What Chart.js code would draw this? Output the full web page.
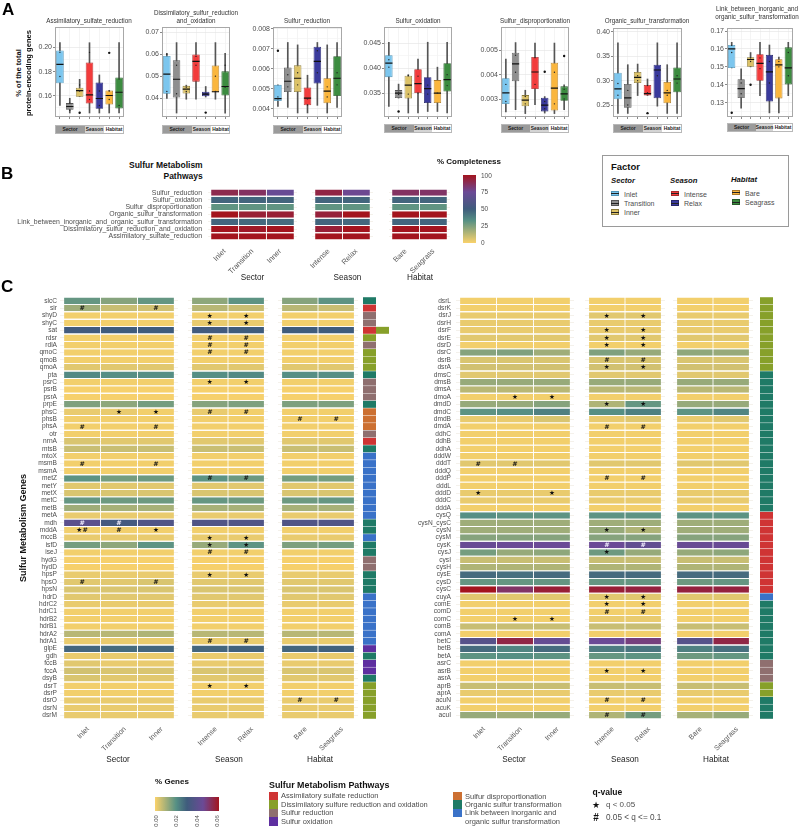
<!DOCTYPE html>
<html>
<head>
<meta charset="utf-8">
<title>Sulfur metabolism genes</title>
<script src="https://cdn.jsdelivr.net/npm/chart.js@4"></script>
<style>
  html, body { margin: 0; padding: 0; background: #fff; }
  #page { position: relative; width: 800px; height: 828px; overflow: hidden; font-family: "Liberation Sans", Arial, sans-serif; }
  #page canvas { position: absolute; }
  .t { position: absolute; white-space: nowrap; line-height: 1; color: #222; }
  .b { position: absolute; box-sizing: border-box; }
</style>
</head>
<body>
<div id="page"></div>
<script>
// ===============================
// BOXPLOT DATA  [low, q1, median, q3, high]
// ===============================
const boxFactors = ["Inlet", "Transition", "Inner", "Intense", "Relax", "Bare", "Seagrass"];

const assimBoxes = [
  [0.152, 0.1704, 0.186, 0.1975, 0.204], [0.1458, 0.1485, 0.1512, 0.154, 0.158], [0.1595, 0.1592, 0.1644, 0.1668, 0.1737],
  [0.1458, 0.1537, 0.1608, 0.1877, 0.204], [0.1458, 0.1493, 0.1578, 0.171, 0.1773], [0.1458, 0.1529, 0.1603, 0.1644, 0.1644],
  [0.1458, 0.1496, 0.163, 0.1753, 0.204]
];
const assimOutliers = [[], [], [0.146], [], [], [0.1956], []];
const assimDots = [[0.196, 0.176], [0.154, 0.148], [0.164, 0.169], [0.196, 0.164, 0.157], [0.164, 0.152], [0.164, 0.157], [0.174, 0.152]];
const assimTicks = [0.16, 0.18, 0.20];

const dissimBoxes = [
  [0.0399, 0.042, 0.0509, 0.0592, 0.0604], [0.0332, 0.0403, 0.0486, 0.0572, 0.0653], [0.0395, 0.0421, 0.0441, 0.0456, 0.0459],
  [0.0395, 0.0475, 0.0567, 0.0599, 0.0653], [0.0405, 0.0408, 0.0418, 0.0429, 0.0453], [0.0395, 0.0427, 0.0429, 0.0549, 0.0653],
  [0.0332, 0.0412, 0.0453, 0.0522, 0.0604]
];
const dissimOutliers = [[], [], [], [], [0.0334], [], []];
const dissimDots = [[0.06, 0.043], [0.055, 0.042], [0.045, 0.043], [0.059, 0.055], [0.042], [0.05, 0.043], [0.055, 0.045]];
const dissimTicks = [0.04, 0.05, 0.06, 0.07];

const reductionBoxes = [
  [0.00413, 0.0044, 0.00451, 0.0052, 0.0052], [0.00408, 0.00484, 0.00538, 0.00607, 0.00731], [0.0038, 0.00484, 0.00553, 0.00617, 0.00719],
  [0.0038, 0.00418, 0.00454, 0.00507, 0.00568], [0.00418, 0.00527, 0.00637, 0.0071, 0.00731], [0.0038, 0.00428, 0.00489, 0.00553, 0.00719],
  [0.00408, 0.00464, 0.00553, 0.00663, 0.00731]
];
const reductionOutliers = [[0.0069], [], [], [], [], [], []];
const reductionDots = [[0.0046, 0.0045], [0.0057, 0.0051], [0.0058, 0.0052], [0.0045, 0.0042], [0.0069, 0.0058], [0.0051, 0.0046], [0.0058, 0.0052]];
const reductionTicks = [0.004, 0.005, 0.006, 0.007, 0.008];

const oxidationBoxes = [
  [0.0323, 0.0382, 0.041, 0.0426, 0.0452], [0.034, 0.034, 0.035, 0.0356, 0.0368], [0.031, 0.0339, 0.0366, 0.0385, 0.0387],
  [0.031, 0.035, 0.0369, 0.0398, 0.0418], [0.0313, 0.033, 0.0359, 0.0382, 0.0452], [0.0313, 0.033, 0.035, 0.0376, 0.0402],
  [0.031, 0.0353, 0.0377, 0.041, 0.0452]
];
const oxidationOutliers = [[], [0.0313], [], [], [], [], []];
const oxidationDots = [[0.0417, 0.0402], [0.0352, 0.0347], [0.0385, 0.0348], [0.0384, 0.035], [0.0366, 0.0348], [0.035], [0.0387, 0.0365]];
const oxidationTicks = [0.035, 0.040, 0.045];

const disproportionBoxes = [
  [0.00247, 0.00279, 0.00325, 0.00385, 0.00464], [0.00256, 0.00373, 0.00444, 0.0049, 0.00532], [0.0024, 0.0027, 0.00295, 0.00316, 0.00336],
  [0.00277, 0.00341, 0.00411, 0.00473, 0.0053], [0.00242, 0.00249, 0.00275, 0.00305, 0.0031], [0.0024, 0.00253, 0.00345, 0.00449, 0.0053],
  [0.00256, 0.00293, 0.00321, 0.00352, 0.00358]
];
const disproportionOutliers = [[], [], [], [], [0.00412], [], [0.00477]];
const disproportionDots = [[0.0036, 0.0029], [0.0048, 0.0041], [0.0031, 0.0028], [0.0047, 0.0036], [0.0029, 0.0026], [0.0041, 0.0028], [0.0034, 0.003]];
const disproportionTicks = [0.003, 0.004, 0.005];

const organicBoxes = [
  [0.2327, 0.2619, 0.283, 0.3163, 0.3776], [0.2327, 0.2442, 0.2646, 0.2932, 0.3327], [0.2694, 0.2952, 0.3068, 0.3177, 0.334],
  [0.2694, 0.2694, 0.2735, 0.2912, 0.3034], [0.2476, 0.2639, 0.3218, 0.3327, 0.3776], [0.2327, 0.2537, 0.2748, 0.2973, 0.3327],
  [0.2327, 0.2762, 0.3034, 0.3272, 0.3776]
];
const organicOutliers = [[], [], [], [0.2333], [], [], []];
const organicDots = [[0.294, 0.27], [0.28, 0.25], [0.31, 0.3], [0.29, 0.275], [0.31], [0.28, 0.27], [0.31, 0.295]];
const organicTicks = [0.25, 0.30, 0.35, 0.40];

const linkBoxes = [
  [0.1494, 0.1494, 0.16, 0.1622, 0.1637], [0.1269, 0.1326, 0.1378, 0.1431, 0.1489], [0.15, 0.15, 0.1541, 0.1554, 0.158],
  [0.1339, 0.1422, 0.1519, 0.157, 0.1637], [0.1243, 0.1306, 0.1472, 0.1567, 0.1622], [0.1243, 0.1324, 0.1511, 0.1543, 0.1554],
  [0.1339, 0.1402, 0.1494, 0.1609, 0.1637]
];
const linkOutliers = [[0.1244], [], [0.14], [], [], [], []];
const linkDots = [[0.162, 0.158], [0.141, 0.135], [0.155, 0.153], [0.155, 0.149], [0.153, 0.141], [0.153, 0.15], [0.158, 0.145]];
const linkTicks = [0.13, 0.14, 0.15, 0.16, 0.17];

// ===============================
// PATHWAY COMPLETENESS DATA
// ===============================
const pathways = [
  "Sulfur_reduction", "Sulfur_oxidation", "Sulfur_disproportionation", "Organic_sulfur_transformation",
  "Link_between_inorganic_and_organic_sulfur_transformation", "Dissimilatory_sulfur_reduction_and_oxidation",
  "Assimilatory_sulfate_reduction"
];
// columns follow boxFactors
const completeness = [
  [90, 86, 73, 92, 76, 86, 85],
  [47, 47, 47, 47, 47, 47, 47],
  [31, 31, 31, 31, 31, 31, 31],
  [100, 95, 95, 94, 100, 100, 100],
  [47, 46, 45, 47, 46, 47, 47],
  [100, 98, 100, 95, 100, 100, 100],
  [100, 100, 100, 100, 100, 100, 100]
];

// ===============================
// GENE HEATMAP DATA (% genes)
// ===============================
const leftGenes = [
  "slcC", "sir", "shyD", "shyC", "sat", "rdsr", "rdlA", "qmoC", "qmoB", "qmoA", "pta", "psrC", "psrB", "psrA", "prpE",
  "phsC", "phsB", "phsA", "otr", "nrnA", "mtsB", "mtoX", "msmB", "msmA", "metZ", "metY", "metX", "metC", "metB", "metA",
  "mdh", "mddA", "mccB", "isfD", "iseJ", "hydG", "hydD", "hpsP", "hpsO", "hpsN", "hdrD", "hdrC2", "hdrC1", "hdrB2", "hdrB1",
  "hdrA2", "hdrA1", "glpE", "gdh", "fccB", "fccA", "dsyB", "dsrT", "dsrP", "dsrO", "dsrN", "dsrM"
];
const leftValues = [
  [0.018, 0.014, 0.018, 0.013, 0.019, 0.014, 0.019], [0.011, 0.006, 0.005, 0.008, 0.006, 0.008, 0.006],
  [0.001, 0.001, 0.001, 0.001, 0.001, 0.001, 0.001], [0.001, 0.001, 0.001, 0.002, 0.002, 0.001, 0.001],
  [0.031, 0.030, 0.030, 0.031, 0.030, 0.030, 0.030], [0.001, 0.001, 0.001, 0.001, 0.001, 0.001, 0.001],
  [0.001, 0.001, 0.001, 0.001, 0.001, 0.001, 0.001], [0.001, 0.001, 0.001, 0.001, 0.001, 0.001, 0.001],
  [0.001, 0.001, 0.001, 0.001, 0.001, 0.001, 0.001], [0.003, 0.003, 0.003, 0.003, 0.003, 0.003, 0.003],
  [0.021, 0.020, 0.020, 0.020, 0.021, 0.020, 0.020], [0.001, 0.001, 0.001, 0.001, 0.001, 0.001, 0.001],
  [0.0005, 0.0005, 0.0005, 0.0005, 0.0005, 0.0005, 0.0005], [0.0005, 0.0005, 0.0005, 0.0005, 0.0005, 0.0005, 0.0005],
  [0.015, 0.013, 0.016, 0.014, 0.015, 0.015, 0.015], [0.002, 0.002, 0.001, 0.002, 0.001, 0.001, 0.001],
  [0.001, 0.001, 0.001, 0.001, 0.001, 0.001, 0.001], [0.001, 0.001, 0.001, 0.001, 0.001, 0.001, 0.001],
  [0.001, 0.001, 0.001, 0.001, 0.001, 0.001, 0.001], [0.004, 0.003, 0.003, 0.003, 0.003, 0.003, 0.003],
  [0.006, 0.006, 0.006, 0.006, 0.006, 0.006, 0.006], [0.001, 0.001, 0.001, 0.001, 0.001, 0.001, 0.001],
  [0.001, 0.001, 0.001, 0.001, 0.001, 0.001, 0.001], [0.001, 0.001, 0.001, 0.001, 0.001, 0.001, 0.001],
  [0.019, 0.016, 0.017, 0.019, 0.017, 0.016, 0.016], [0.003, 0.003, 0.003, 0.003, 0.003, 0.003, 0.003],
  [0.004, 0.004, 0.004, 0.004, 0.004, 0.004, 0.004], [0.018, 0.017, 0.017, 0.018, 0.017, 0.017, 0.018],
  [0.011, 0.010, 0.010, 0.010, 0.010, 0.010, 0.010], [0.002, 0.002, 0.002, 0.002, 0.002, 0.002, 0.002],
  [0.040, 0.032, 0.036, 0.036, 0.036, 0.036, 0.036], [0.001, 0.001, 0.001, 0.001, 0.001, 0.001, 0.001],
  [0.002, 0.002, 0.002, 0.002, 0.002, 0.002, 0.002], [0.016, 0.013, 0.019, 0.012, 0.019, 0.015, 0.016],
  [0.001, 0.001, 0.001, 0.001, 0.001, 0.001, 0.001], [0.0005, 0.0005, 0.0005, 0.0005, 0.0005, 0.0005, 0.0005],
  [0.0005, 0.0005, 0.0005, 0.0005, 0.0005, 0.0005, 0.0005], [0.002, 0.002, 0.002, 0.002, 0.002, 0.002, 0.002],
  [0.003, 0.003, 0.004, 0.003, 0.003, 0.003, 0.003], [0.004, 0.004, 0.004, 0.004, 0.004, 0.004, 0.004],
  [0.003, 0.003, 0.003, 0.003, 0.003, 0.003, 0.003], [0.002, 0.002, 0.002, 0.002, 0.002, 0.002, 0.002],
  [0.001, 0.001, 0.001, 0.001, 0.001, 0.001, 0.001], [0.001, 0.001, 0.001, 0.001, 0.001, 0.001, 0.001],
  [0.001, 0.001, 0.001, 0.001, 0.001, 0.001, 0.001], [0.008, 0.008, 0.009, 0.008, 0.008, 0.008, 0.008],
  [0.002, 0.002, 0.002, 0.002, 0.002, 0.002, 0.002], [0.028, 0.027, 0.028, 0.028, 0.029, 0.028, 0.029],
  [0.002, 0.002, 0.002, 0.002, 0.002, 0.002, 0.002], [0.003, 0.002, 0.002, 0.002, 0.002, 0.002, 0.002],
  [0.005, 0.004, 0.004, 0.004, 0.004, 0.004, 0.004], [0.004, 0.003, 0.003, 0.003, 0.003, 0.003, 0.003],
  [0.001, 0.001, 0.001, 0.001, 0.001, 0.001, 0.001], [0.001, 0.001, 0.001, 0.001, 0.001, 0.001, 0.001],
  [0.002, 0.002, 0.002, 0.002, 0.002, 0.002, 0.002], [0.002, 0.002, 0.002, 0.002, 0.002, 0.002, 0.002],
  [0.002, 0.002, 0.002, 0.002, 0.002, 0.002, 0.002]
];
const leftPathways = "TARRADRDDDTRRRTPPPRATLLLLLLLLLTTLTTRRTTTLLLLLLLOTOOTDDDDD".split("");
// sat also belongs to the dissimilatory pathway, shown as a second strip cell
const leftExtra = { sat: "D" };
// [gene, column]
const leftStars = [
  ["shyD", 3], ["shyD", 4], ["shyC", 3], ["shyC", 4], ["psrC", 3], ["psrC", 4], ["phsC", 1], ["phsC", 2], ["mddA", 0], ["mddA", 2],
  ["mccB", 3], ["mccB", 4], ["isfD", 3], ["isfD", 4], ["hpsP", 3], ["hpsP", 4], ["dsrT", 3], ["dsrT", 4]
];
const leftHashes = [
  ["sir", 0], ["sir", 2], ["rdsr", 3], ["rdsr", 4], ["rdlA", 3], ["rdlA", 4], ["qmoC", 3], ["qmoC", 4], ["phsC", 3], ["phsC", 4],
  ["phsB", 5], ["phsB", 6], ["phsA", 0], ["phsA", 2], ["msmB", 0], ["msmB", 2], ["metZ", 3], ["metZ", 4], ["mdh", 0], ["mdh", 1],
  ["mddA", 0], ["mddA", 1], ["iseJ", 3], ["iseJ", 4], ["hpsO", 0], ["hpsO", 2], ["hdrA1", 3], ["hdrA1", 4], ["dsrO", 5], ["dsrO", 6]
];

const rightGenes = [
  "dsrL", "dsrK", "dsrJ", "dsrH", "dsrF", "dsrE", "dsrD", "dsrC", "dsrB", "dsrA", "dmsC", "dmsB", "dmsA", "dmoA", "dmdD",
  "dmdC", "dmdB", "dmdA", "ddhC", "ddhB", "ddhA", "dddW", "dddT", "dddQ", "dddP", "dddL", "dddD", "dddC", "dddA", "cysQ",
  "cysN_cysC", "cysN", "cysM", "cysK", "cysJ", "cysI", "cysH", "cysE", "cysD", "cysC", "cuyA", "comE", "comD", "comC", "comB",
  "comA", "betC", "betB", "betA", "asrC", "asrB", "asrA", "aprB", "aprA", "acuN", "acuK", "acuI"
];
const rightValues = [
  [0.001, 0.001, 0.001, 0.001, 0.001, 0.001, 0.001], [0.001, 0.001, 0.001, 0.001, 0.001, 0.001, 0.001],
  [0.002, 0.002, 0.002, 0.003, 0.003, 0.002, 0.002], [0.002, 0.002, 0.002, 0.002, 0.002, 0.002, 0.002],
  [0.002, 0.002, 0.002, 0.002, 0.002, 0.002, 0.002], [0.003, 0.003, 0.003, 0.003, 0.003, 0.003, 0.003],
  [0.001, 0.001, 0.001, 0.001, 0.001, 0.001, 0.001], [0.014, 0.015, 0.011, 0.015, 0.012, 0.013, 0.012],
  [0.004, 0.004, 0.004, 0.004, 0.004, 0.004, 0.004], [0.005, 0.005, 0.005, 0.005, 0.005, 0.005, 0.005],
  [0.003, 0.003, 0.003, 0.003, 0.003, 0.003, 0.003], [0.012, 0.012, 0.012, 0.012, 0.012, 0.012, 0.012],
  [0.008, 0.008, 0.008, 0.008, 0.008, 0.008, 0.008], [0.001, 0.001, 0.001, 0.001, 0.001, 0.001, 0.001],
  [0.012, 0.012, 0.014, 0.009, 0.018, 0.012, 0.012], [0.019, 0.020, 0.023, 0.020, 0.023, 0.019, 0.022],
  [0.002, 0.002, 0.004, 0.002, 0.003, 0.002, 0.003], [0.001, 0.001, 0.001, 0.001, 0.001, 0.001, 0.001],
  [0.001, 0.001, 0.001, 0.001, 0.001, 0.001, 0.001], [0.001, 0.001, 0.001, 0.001, 0.001, 0.001, 0.001],
  [0.001, 0.001, 0.001, 0.001, 0.001, 0.001, 0.001], [0.001, 0.001, 0.001, 0.001, 0.001, 0.001, 0.001],
  [0.003, 0.003, 0.003, 0.003, 0.003, 0.003, 0.003], [0.001, 0.001, 0.001, 0.001, 0.001, 0.001, 0.001],
  [0.001, 0.001, 0.001, 0.001, 0.001, 0.001, 0.001], [0.001, 0.001, 0.001, 0.001, 0.001, 0.001, 0.001],
  [0.002, 0.002, 0.002, 0.002, 0.002, 0.002, 0.002], [0.002, 0.002, 0.002, 0.002, 0.002, 0.002, 0.002],
  [0.001, 0.001, 0.001, 0.001, 0.001, 0.001, 0.001], [0.020, 0.019, 0.019, 0.019, 0.019, 0.019, 0.019],
  [0.011, 0.011, 0.011, 0.011, 0.011, 0.011, 0.011], [0.011, 0.011, 0.011, 0.012, 0.009, 0.011, 0.011],
  [0.014, 0.014, 0.014, 0.014, 0.014, 0.014, 0.014], [0.044, 0.045, 0.045, 0.045, 0.042, 0.044, 0.044],
  [0.016, 0.012, 0.013, 0.017, 0.012, 0.012, 0.013], [0.006, 0.006, 0.006, 0.006, 0.006, 0.006, 0.006],
  [0.009, 0.009, 0.009, 0.009, 0.009, 0.009, 0.009], [0.027, 0.026, 0.027, 0.027, 0.027, 0.027, 0.027],
  [0.018, 0.018, 0.018, 0.018, 0.018, 0.017, 0.018], [0.060, 0.051, 0.057, 0.057, 0.056, 0.056, 0.056],
  [0.003, 0.003, 0.003, 0.003, 0.003, 0.003, 0.003], [0.001, 0.001, 0.001, 0.001, 0.001, 0.001, 0.001],
  [0.001, 0.001, 0.001, 0.001, 0.001, 0.001, 0.001], [0.001, 0.001, 0.001, 0.002, 0.002, 0.001, 0.001],
  [0.006, 0.006, 0.006, 0.006, 0.006, 0.006, 0.006], [0.001, 0.001, 0.001, 0.001, 0.001, 0.001, 0.001],
  [0.038, 0.055, 0.043, 0.045, 0.048, 0.038, 0.055], [0.027, 0.022, 0.027, 0.024, 0.025, 0.023, 0.026],
  [0.019, 0.020, 0.019, 0.018, 0.019, 0.017, 0.018], [0.001, 0.001, 0.001, 0.001, 0.001, 0.001, 0.001],
  [0.001, 0.001, 0.001, 0.001, 0.001, 0.001, 0.001], [0.001, 0.001, 0.001, 0.001, 0.001, 0.001, 0.001],
  [0.006, 0.006, 0.006, 0.006, 0.006, 0.006, 0.006], [0.002, 0.002, 0.002, 0.002, 0.002, 0.002, 0.002],
  [0.001, 0.001, 0.001, 0.001, 0.001, 0.001, 0.001], [0.001, 0.001, 0.001, 0.001, 0.001, 0.001, 0.001],
  [0.012, 0.011, 0.012, 0.009, 0.016, 0.010, 0.012]
];
const rightPathways = "DDDDDDDDDDTTTTTTTTTTTTTTTTTTTAAAAAAAAAAALTTTTTTTTRRRDDTTT".split("");
const rightExtra = {};
const rightStars = [
  ["dsrJ", 3], ["dsrJ", 4], ["dsrF", 3], ["dsrF", 4], ["dsrE", 3], ["dsrE", 4], ["dsrD", 3], ["dsrD", 4], ["dsrA", 3], ["dsrA", 4],
  ["dmoA", 1], ["dmoA", 2], ["dmdD", 3], ["dmdD", 4], ["dddD", 0], ["dddD", 2], ["cysN", 3], ["cysN", 4], ["cysJ", 3],
  ["cuyA", 3], ["cuyA", 4], ["comE", 3], ["comE", 4], ["comC", 1], ["comC", 2], ["asrB", 3], ["asrB", 4]
];
const rightHashes = [
  ["dsrB", 3], ["dsrB", 4], ["dmdA", 3], ["dmdA", 4], ["dddT", 0], ["dddT", 1], ["dddP", 3], ["dddP", 4], ["cysK", 3], ["cysK", 4],
  ["comD", 3], ["comD", 4], ["acuN", 3], ["acuN", 4], ["acuI", 3], ["acuI", 4]
];

const completenessTicks = [100, 75, 50, 25, 0];
const geneScaleTicks = ["0.00", "0.02", "0.04", "0.06"];

// ===============================
// STYLES
// ===============================
const boxFill = ["#7cc6ee", "#8f8f8f", "#dcc268", "#f23c3c", "#3a3a9c", "#fab63e", "#3c8c40"];
const boxEdge = ["#4f93b5", "#555555", "#8a7a3a", "#a62a2a", "#26266a", "#a8782a", "#275c2a"];
const pathwayColor = { A: "#cf3434", D: "#87a02a", R: "#8f6f6f", O: "#5e2fa0", P: "#cc7032", T: "#1f7a66", L: "#3a72c8" };
const rampStops = [[0, "#fad26b"], [0.33, "#569084"], [0.5, "#3f5c7c"], [0.75, "#6b4a96"], [1, "#a3141e"]];
const rampCss = rampStops.map(s => `${s[1]} ${s[0] * 100}%`).join(",");
const labelGrey = "#4d4d4d";
const fontName = '"Liberation Sans", Arial, sans-serif';

Chart.defaults.font.family = fontName;
Chart.defaults.animation = false;
Chart.defaults.responsive = false;
Chart.defaults.layout.autoPadding = false;
Chart.defaults.plugins.legend.display = false;
Chart.defaults.plugins.tooltip.enabled = false;

// ===============================
// HELPERS
// ===============================
const page = document.getElementById("page");

function hexRgb(h) {
  return [1, 3, 5].map(i => parseInt(h.slice(i, i + 2), 16));
}

function rampColor(t) {
  t = Math.max(0, Math.min(1, t));
  for (let i = 1; i < rampStops.length; i++) {
    if (t <= rampStops[i][0]) {
      const [t0, c0] = rampStops[i - 1];
      const [t1, c1] = rampStops[i];
      const f = (t - t0) / (t1 - t0);
      const a = hexRgb(c0), b = hexRgb(c1);
      return `rgb(${a.map((v, k) => Math.round(v + (b[k] - v) * f)).join(",")})`;
    }
  }
  return rampStops[rampStops.length - 1][1];
}

// absolutely placed text, x is the left/centre/right anchor and y the middle
function text(str, x, y, size, opts = {}) {
  const d = document.createElement("div");
  d.className = "t";
  d.textContent = str;
  const ax = { l: "0", c: "-50%", r: "-100%" }[opts.align || "l"];
  d.style.cssText = `left:${x}px;top:${y}px;font-size:${size}px;transform:translate(${ax},-50%) rotate(${opts.rot || 0}deg);`
    + `font-weight:${opts.bold ? "bold" : "normal"};font-style:${opts.italic ? "italic" : "normal"};color:${opts.color || "#222"};`
    + (opts.font ? `font-family:${opts.font};` : "");
  page.appendChild(d);
  return d;
}

function block(x, y, w, h, css) {
  const d = document.createElement("div");
  d.className = "b";
  d.style.cssText = `left:${x}px;top:${y}px;width:${w}px;height:${h}px;${css}`;
  page.appendChild(d);
  return d;
}

function newCanvas(x, y, w, h) {
  const c = document.createElement("canvas");
  c.width = w;
  c.height = h;
  c.style.left = x + "px";
  c.style.top = y + "px";
  page.appendChild(c);
  return c;
}

// pins an axis to a given thickness so the plot area lands where it should
function pinAxis(size) {
  return scale => {
    if (scale.isHorizontal()) scale.height = size; else scale.width = size;
    scale.paddingLeft = scale.paddingRight = scale.paddingTop = scale.paddingBottom = 0;
  };
}

const panelBorder = {
  id: "panelBorder",
  afterDatasetsDraw(chart) {
    const { ctx, chartArea: a } = chart;
    ctx.save();
    ctx.strokeStyle = "#a8a8a8";
    ctx.lineWidth = 1;
    ctx.strokeRect(a.left + 0.5, a.top + 0.5, a.right - a.left - 1, a.bottom - a.top - 1);
    ctx.restore();
  }
};

// stars and hashes written on top of the heatmap cells
const cellMarks = {
  id: "cellMarks",
  afterDatasetsDraw(chart, args, opts) {
    const ctx = chart.ctx;
    ctx.save();
    ctx.textAlign = "center";
    ctx.textBaseline = "middle";
    opts.marks.forEach(m => {
      const p = chart.getDatasetMeta(m.col).data[m.row].getCenterPoint();
      ctx.fillStyle = m.light ? "#f4f0ff" : "#111";
      ctx.font = `bold ${m.sym === "#" ? 6.4 : 6.6}px "DejaVu Sans"`;
      ctx.fillText(m.sym === "#" ? "#" : "\u2605", p.x + m.dx, p.y + 0.3);
    });
    ctx.restore();
  }
};

// ===============================
// PANEL A : BOXPLOTS
// ===============================
function buildBoxPanel(box, stats, outliers, dots, ticks, digits, ymin, ymax) {
  const gutter = 26;
  const headroom = 5; // keeps a tick label at the very top of the panel from being cut
  const canvas = newCanvas(box.x0 - gutter, box.y0 - headroom, box.x1 - box.x0 + gutter, box.y1 - box.y0 + 4 + headroom);
  const mid = ticks.slice(1).map((v, i) => (v + ticks[i]) / 2);
  const all = ticks.concat(mid).concat([ticks[0] - (ticks[1] - ticks[0]) / 2]).filter(v => v > ymin && v < ymax);

  const flat = list => list.flatMap((vals, i) => vals.map(v => ({ x: boxFactors[i], y: v })));

  new Chart(canvas, {
    type: "bar",
    data: {
      labels: boxFactors,
      datasets: [
        {
          data: stats.map(s => [s[0], s[4]]),
          backgroundColor: "#555",
          barThickness: 1,
          grouped: false,
          order: 4
        },
        {
          data: stats.map(s => [s[1], s[3]]),
          backgroundColor: boxFill,
          borderColor: boxEdge,
          borderWidth: 0.8,
          borderSkipped: false,
          barPercentage: 0.77,
          categoryPercentage: 1,
          grouped: false,
          order: 3
        },
        {
          type: "line",
          data: stats.map(s => s[2]),
          showLine: false,
          pointStyle: "line",
          pointRadius: 3.6,
          pointBorderWidth: 1.2,
          pointBorderColor: "#111",
          order: 2
        },
        {
          type: "line",
          data: flat(dots),
          showLine: false,
          pointRadius: 0.7,
          pointBorderWidth: 0,
          pointBackgroundColor: "#222",
          order: 1
        },
        {
          type: "line",
          data: flat(outliers),
          showLine: false,
          pointRadius: 1.2,
          pointBorderWidth: 0,
          pointBackgroundColor: "#111",
          order: 0
        }
      ]
    },
    options: {
      layout: { padding: { top: headroom } },
      scales: {
        x: {
          afterFit: pinAxis(4),
          ticks: { display: false },
          grid: { color: "#efefef", offset: false, tickColor: "#555", tickLength: 2, lineWidth: 0.7 },
          border: { display: false }
        },
        y: {
          min: ymin,
          max: ymax,
          afterFit: pinAxis(gutter),
          afterBuildTicks: s => { s.ticks = all.map(v => ({ value: v })); },
          ticks: {
            autoSkip: false,
            color: labelGrey,
            padding: 1,
            font: { size: 7 },
            callback: v => (ticks.some(t => Math.abs(t - v) < 1e-9) ? v.toFixed(digits) : "")
          },
          grid: {
            color: c => (ticks.some(t => Math.abs(t - c.tick.value) < 1e-9) ? "#e6e6e6" : "#f3f3f3"),
            tickColor: c => (ticks.some(t => Math.abs(t - c.tick.value) < 1e-9) ? "#555" : "transparent"),
            tickLength: 2,
            lineWidth: 0.7
          },
          border: { display: false }
        }
      }
    },
    plugins: [panelBorder]
  });

  // factor strip below the panel
  const h = 9.4;
  const s = box.strip;
  block(s[0], box.stripY, s[1] - s[0], h, "background:#9b9b9b;");
  block(s[1], box.stripY, s[2] - s[1], h, "background:#d4d4d4;");
  block(s[2], box.stripY, s[3] - s[2], h, "background:#fff;");
  block(s[0], box.stripY, s[3] - s[0], h, "border:1px solid #b8b8b8;");
  ["Sector", "Season", "Habitat"].forEach((name, i) => {
    text(name, (s[i] + s[i + 1]) / 2, box.stripY + h / 2, 4.9, { align: "c", bold: true, color: "#1c1c1c" });
  });
}

buildBoxPanel({ x0: 55, x1: 124, y0: 27, y1: 117, stripY: 125, strip: [55, 85, 104, 124] },
  assimBoxes, assimOutliers, assimDots, assimTicks, 2, 0.1425, 0.217);
buildBoxPanel({ x0: 162, x1: 230, y0: 27, y1: 117, stripY: 125, strip: [162, 192, 211, 230] },
  dissimBoxes, dissimOutliers, dissimDots, dissimTicks, 2, 0.0314, 0.0724);
buildBoxPanel({ x0: 273, x1: 342, y0: 27, y1: 117, stripY: 125, strip: [273, 303, 322, 342] },
  reductionBoxes, reductionOutliers, reductionDots, reductionTicks, 3, 0.0036, 0.00808);
buildBoxPanel({ x0: 384, x1: 452, y0: 27, y1: 117, stripY: 124, strip: [384, 414, 432, 452] },
  oxidationBoxes, oxidationOutliers, oxidationDots, oxidationTicks, 3, 0.0302, 0.04826);
buildBoxPanel({ x0: 501, x1: 569, y0: 27, y1: 117, stripY: 124, strip: [501, 530, 549, 569] },
  disproportionBoxes, disproportionOutliers, disproportionDots, disproportionTicks, 3, 0.00226, 0.00596);
buildBoxPanel({ x0: 613, x1: 682, y0: 28, y1: 117, stripY: 124, strip: [613, 643, 662, 682] },
  organicBoxes, organicOutliers, organicDots, organicTicks, 2, 0.2254, 0.408);
buildBoxPanel({ x0: 727, x1: 793, y0: 28, y1: 117, stripY: 123, strip: [727, 756, 773, 793] },
  linkBoxes, linkOutliers, linkDots, linkTicks, 2, 0.122, 0.1717);

const titleOpts = { align: "c", color: "#333" };
text("Assimilatory_sulfate_reduction", 89, 20.7, 6.3, titleOpts);
text("Dissimilatory_sulfur_reduction", 196, 13, 6.3, titleOpts);
text("and_oxidation", 196, 21, 6.3, titleOpts);
text("Sulfur_reduction", 307, 20.7, 6.3, titleOpts);
text("Sulfur_oxidation", 418, 20.7, 6.3, titleOpts);
text("Sulfur_disproportionation", 535, 21, 6.3, titleOpts);
text("Organic_sulfur_transformation", 647, 21, 6.3, titleOpts);
text("Link_between_inorganic_and", 757, 9, 6.3, titleOpts);
text("organic_sulfur_transformation", 757, 17, 6.3, titleOpts);

text("% of the total", 19, 73, 7.6, { align: "c", bold: true, rot: -90, color: "#111" });
text("protein-encoding genes", 29, 73, 7.6, { align: "c", bold: true, rot: -90, color: "#111" });

// ===============================
// HEATMAP FACET BUILDER
// ===============================
function buildFacet(cfg) {
  const n = cfg.cols.length;
  const canvas = newCanvas(cfg.x0 - cfg.gutter, cfg.y0, cfg.x1 - cfg.x0 + cfg.gutter, cfg.y1 - cfg.y0 + cfg.axisH);
  const names = cfg.cols.map(c => boxFactors[c]);

  new Chart(canvas, {
    type: "bar",
    data: {
      labels: cfg.rows,
      datasets: cfg.cols.map(c => ({
        data: cfg.values.map(() => 1),
        backgroundColor: cfg.values.map(row => rampColor(row[c] / cfg.domain)),
        borderColor: "#fff",
        borderWidth: { left: 0.45, right: 0.45, top: 0, bottom: 0 },
        borderSkipped: false,
        barPercentage: cfg.barShare,
        categoryPercentage: 1
      }))
    },
    options: {
      indexAxis: "y",
      layout: { padding: 0 },
      scales: {
        x: {
          stacked: true,
          min: -0.1,
          max: n + 0.1,
          afterFit: pinAxis(cfg.axisH),
          afterBuildTicks: s => { s.ticks = names.map((_, i) => ({ value: i + 0.5 })); },
          ticks: {
            autoSkip: false,
            minRotation: 45,
            maxRotation: 45,
            labelOffset: cfg.labelOffset,
            padding: cfg.xPad,
            color: "#5a5a5a",
            font: { size: cfg.xFont },
            callback: v => names[Math.floor(v)]
          },
          grid: { display: false },
          border: { display: false }
        },
        y: {
          stacked: true,
          afterFit: pinAxis(cfg.gutter),
          ticks: {
            display: cfg.showRows,
            autoSkip: false,
            padding: cfg.yPad,
            color: labelGrey,
            font: { size: cfg.yFont }
          },
          grid: { color: "#f1eee6", offset: false, drawTicks: false, lineWidth: 0.8 },
          border: { display: false }
        }
      },
      plugins: { cellMarks: { marks: cfg.marks || [] } }
    },
    plugins: [cellMarks]
  });
}

// one-column strip naming the pathway of every gene
function buildStrip(x0, y0, y1, genes, codes, extra) {
  const canvas = newCanvas(x0, y0, 26, y1 - y0);
  new Chart(canvas, {
    type: "bar",
    data: {
      labels: genes,
      datasets: [
        {
          data: genes.map(() => 1),
          backgroundColor: codes.map(c => pathwayColor[c]),
          barPercentage: 0.94,
          categoryPercentage: 1
        },
        {
          data: genes.map(g => (extra[g] ? 1 : null)),
          backgroundColor: genes.map(g => pathwayColor[extra[g]] || "transparent"),
          barPercentage: 0.94,
          categoryPercentage: 1
        }
      ]
    },
    options: {
      indexAxis: "y",
      layout: { padding: 0 },
      scales: {
        x: { display: false, stacked: true, min: 0, max: 2 },
        y: { display: false, stacked: true }
      }
    }
  });
}

function marksFor(genes, values, stars, hashes, cols) {
  const marks = [];
  const both = stars.filter(s => hashes.some(h => h[0] === s[0] && h[1] === s[1]));
  const add = (list, sym) => list.forEach(([gene, col]) => {
    const k = cols.indexOf(col);
    if (k < 0) return;
    const row = genes.indexOf(gene);
    const shared = both.some(b => b[0] === gene && b[1] === col);
    marks.push({
      row, col: k, sym,
      dx: shared ? (sym === "#" ? 3 : -3) : 0,
      light: values[row][col] > 0.03
    });
  });
  add(stars, "*");
  add(hashes, "#");
  return marks;
}

// ===============================
// PANEL B : PATHWAY COMPLETENESS
// ===============================
const pathwayFacets = [
  { cols: [0, 1, 2], x0: 208, x1: 297, gutter: 195, showRows: true },
  { cols: [3, 4], x0: 312, x1: 373, gutter: 26, showRows: false },
  { cols: [5, 6], x0: 389, x1: 450, gutter: 26, showRows: false }
];
pathwayFacets.forEach(f => buildFacet({
  ...f,
  y0: 189,
  y1: 240,
  axisH: 36,
  rows: pathways,
  values: completeness,
  domain: 100,
  barShare: 0.86,
  labelOffset: 0,
  xPad: -1,
  xFont: 7.4,
  yFont: 6.9,
  yPad: 6
}));

text("Sulfur Metabolism", 202.7, 165, 8.5, { align: "r", bold: true, color: "#111" });
text("Pathways", 202.7, 176, 8.5, { align: "r", bold: true, color: "#111" });
text("Sector", 252.5, 278, 8.2, { align: "c" });
text("Season", 347.5, 278, 8.2, { align: "c" });
text("Habitat", 420, 278, 8.2, { align: "c" });

text("% Completeness", 469, 162, 8, { align: "c", bold: true, color: "#111" });
block(463, 175, 13, 68, `background:linear-gradient(to top,${rampCss});`);
completenessTicks.forEach((v, i) => {
  text(String(v), 481, 175.5 + i * 16.8, 6.5, { color: labelGrey });
});

// factor legend box
block(602, 155, 187, 72, "border:1.3px solid #9a9a9a;");
text("Factor", 611, 167, 9.5, { bold: true, color: "#111" });
text("Sector", 611, 181, 7.7, { bold: true, italic: true, color: "#111" });
text("Season", 670, 181, 7.7, { bold: true, italic: true, color: "#111" });
text("Habitat", 731, 179.5, 7.7, { bold: true, italic: true, color: "#111" });

function factorKey(x, y, name, idx) {
  block(x, y - 2.8, 7.5, 5.6, `background:${boxFill[idx]};border:0.8px solid ${boxEdge[idx]};`);
  block(x, y - 0.4, 7.5, 0.8, "background:#222;");
  text(name, x + 13, y, 7, { color: labelGrey });
}
factorKey(611, 193.7, "Inlet", 0);
factorKey(611, 203, "Transition", 1);
factorKey(611, 212, "Inner", 2);
factorKey(671, 193.7, "Intense", 3);
factorKey(671, 203, "Relax", 4);
factorKey(732, 192.7, "Bare", 5);
factorKey(732, 202, "Seagrass", 6);

// ===============================
// PANEL C : GENE HEATMAPS
// ===============================
const geneRowsTop = 297;
const geneRowsBottom = 719;
const geneAxisH = 36;

function buildGeneBlock(genes, values, stars, hashes, layout) {
  layout.forEach((f, i) => buildFacet({
    cols: f.cols,
    x0: f.x0,
    x1: f.x1,
    gutter: i === 0 ? f.gutter : 26,
    showRows: i === 0,
    y0: geneRowsTop,
    y1: geneRowsBottom,
    axisH: geneAxisH,
    rows: genes,
    values,
    domain: 0.06,
    barShare: 0.88,
    labelOffset: 6,
    xPad: -2,
    xFont: 7.2,
    yFont: 6.6,
    yPad: f.yPad || 3,
    marks: marksFor(genes, values, stars, hashes, f.cols)
  }));
}

buildGeneBlock(leftGenes, leftValues, leftStars, leftHashes, [
  { cols: [0, 1, 2], x0: 60, x1: 178, gutter: 40 },
  { cols: [3, 4], x0: 188, x1: 268 },
  { cols: [5, 6], x0: 278, x1: 358 }
]);
buildStrip(363, geneRowsTop, geneRowsBottom, leftGenes, leftPathways, leftExtra);

buildGeneBlock(rightGenes, rightValues, rightStars, rightHashes, [
  { cols: [0, 1, 2], x0: 456, x1: 574, gutter: 50, yPad: 5 },
  { cols: [3, 4], x0: 585, x1: 665 },
  { cols: [5, 6], x0: 673, x1: 753 }
]);
buildStrip(760, geneRowsTop, geneRowsBottom, rightGenes, rightPathways, rightExtra);

text("Sulfur Metabolism Genes", 22.5, 528, 9, { align: "c", bold: true, rot: -90, color: "#111" });
[["Sector", 118], ["Season", 229], ["Habitat", 320], ["Sector", 514], ["Season", 625], ["Habitat", 716]].forEach(([name, x]) => {
  text(name, x, 760, 8.2, { align: "c" });
});

// panel letters
text("A", 2, 9, 17, { bold: true, color: "#000" });
text("B", 1, 172.5, 17, { bold: true, color: "#000" });
text("C", 1, 286, 17, { bold: true, color: "#000" });

// ===============================
// BOTTOM LEGENDS
// ===============================
text("% Genes", 172, 781.5, 8, { align: "c", bold: true, color: "#111" });
block(155, 797, 64, 14, `background:linear-gradient(to right,${rampCss});`);
geneScaleTicks.forEach((v, i) => {
  text(v, 156 + i * 20.3, 821, 6, { align: "c", rot: -90, color: labelGrey });
});

text("Sulfur Metabolism Pathways", 269, 785, 8.9, { bold: true, color: "#111" });
[
  ["A", "Assimilatory sulfate reduction", 269, 796],
  ["D", "Dissimilatory sulfure reduction and oxidation", 269, 804.5],
  ["R", "Sulfur reduction", 269, 813],
  ["O", "Sulfur oxidation", 269, 821.5],
  ["P", "Sulfur disproportionation", 453, 796.5],
  ["T", "Organic sulfur transformation", 453, 804.5],
  ["L", "Link between inorganic and", 453, 813]
].forEach(([code, name, x, y]) => {
  block(x, y - 4.2, 9, 8.4, `background:${pathwayColor[code]};`);
  text(name, x + 12, y, 7.5, { color: labelGrey });
});
text("organic sulfur transformation", 465, 821.5, 7.5, { color: labelGrey });

text("q-value", 592.5, 792, 8.5, { bold: true, color: "#111" });
text("\u2605", 596, 805, 9, { align: "c", color: "#111", font: '"DejaVu Sans"' });
text("q < 0.05", 606, 805, 8, { color: labelGrey });
text("#", 596, 818, 10, { align: "c", bold: true, color: "#111" });
text("0.05 < q <= 0.1", 606, 818, 8.2, { color: labelGrey });
</script>
</body>
</html>
